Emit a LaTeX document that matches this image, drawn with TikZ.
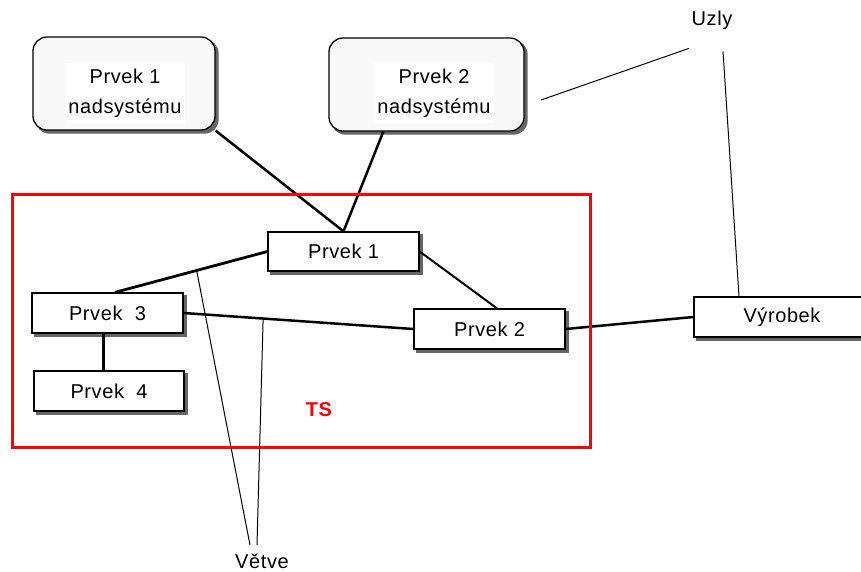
\documentclass[tikz,border=0pt]{standalone}
\usepackage{fontspec}
\setmainfont{Liberation Sans}[LetterSpace=3]
\usetikzlibrary{calc}
\begin{document}
\begin{tikzpicture}[x=1pt,y=-1pt,
  every node/.style={font=\fontsize{20}{24}\selectfont},
  elem/.style={draw=black, line width=1.3pt, fill=white, minimum height=40pt, inner sep=0pt},
  shad/.style={draw=none, fill=gray!80!black, minimum height=41.3pt, inner sep=0pt},
  nadbox/.style={elem, rounded corners=14pt, fill=gray!5, minimum height=93pt},
  nadshad/.style={shad, rounded corners=14pt, minimum height=94.3pt},
  nadtext/.style={fill=white, inner sep=0pt, align=center, minimum width=120pt, minimum height=60pt},
  conn/.style={line width=2.5pt},
  thinline/.style={line width=1pt},
  lbl/.style={anchor=base, inner sep=0pt},
]
\useasboundingbox (0,0) rectangle (861,571);
\clip (0,0) rectangle (861,571);

% shadows
\node[nadshad, minimum width=183.3pt] (n1s) at (127,86.5) {};
\node[nadshad, minimum width=196.3pt] (n2s) at (429.5,87.5) {};
\node[shad, minimum width=152.3pt, minimum height=40.3pt] (p1s) at (346.5,254.5) {};
\node[shad, minimum width=152.3pt] (p2s) at (492.5,332) {};
\node[shad, minimum width=152.3pt] (p3s) at (110.5,316) {};
\node[shad, minimum width=151.3pt] (p4s) at (112,394) {};
\node[shad, minimum width=177.3pt] (vs) at (785,320) {};

% upper-system elements
\node[nadbox, minimum width=182pt] (n1) at (124,83.5) {};
\node[nadtext] (n1t) at (125,93) {Prvek 1\\[6pt]nadsystému};
\node[nadbox, minimum width=195pt] (n2) at (426.5,84.5) {};
\node[nadtext] (n2t) at (434,93) {Prvek 2\\[6pt]nadsystému};

% system elements
\node[elem, minimum width=151pt, minimum height=39pt] (p1) at (343.5,251.5) {Prvek 1};
\node[elem, minimum width=151pt] (p2) at (489.5,329) {Prvek 2};
\node[elem, minimum width=151pt] (p3) at (107.5,313) {Prvek\ \ 3};
\node[elem, minimum width=150pt] (p4) at (109,391) {Prvek\ \ 4};
\node[elem, minimum width=176pt] (v) at (782,317) {Výrobek};

% labels
\node[lbl] (uzly) at (712,25) {Uzly};
\node[lbl] (vetve) at (262,568) {Větve};
\node[text=red, font=\fontsize{20}{24}\selectfont\bfseries] (ts) at (319,410) {TS};

% connectors
\coordinate (p3top) at ($(p3.north)+(7.5,0)$);
\coordinate (p2top) at ($(p2.north)+(7.5,0)$);
\draw[conn] (n1.south east) -- (p1.north);
\draw[conn] ($(n2.south west)!0.28!(n2.south east)$) -- (p1.north);
\draw[conn, line width=2.8pt] (p1.west) -- (p3top);
\draw[conn, line width=2pt] (p1.east) -- (p2top);
\draw[conn] (p3.east) -- (p2.west);
\draw[conn] ([xshift=-4pt]p3.south) -- ([xshift=-4pt]p3.south |- p4.north);
\draw[conn] (p2.east) -- (v.west);

% node pointers (Uzly)
\coordinate (uz1) at (541,100);
\draw[thinline] ($(uzly.south)+(-23,19)$) -- (uz1);
\draw[thinline] ($(uzly.south)+(11,22)$) -- ([xshift=-43pt]v.north);

% branch pointers (Vetve)
\coordinate (b1) at ($(p1.west)!0.464!(p3top)$);
\coordinate (b2) at ($(p3.east)!0.346!(p2.west)$);
\coordinate (vt) at ($(vetve.base)+(0,-23)$);
\draw[thinline] (b1) -- ($(vt)+(-12,0)$);
\draw[thinline] (b2) -- ($(vt)+(-5,0)$);

% system boundary
\node[draw=red, line width=3pt, inner sep=0pt, minimum width=578pt, minimum height=253pt] (tsbox) at (301,320.5) {};
\end{tikzpicture}
\end{document}
